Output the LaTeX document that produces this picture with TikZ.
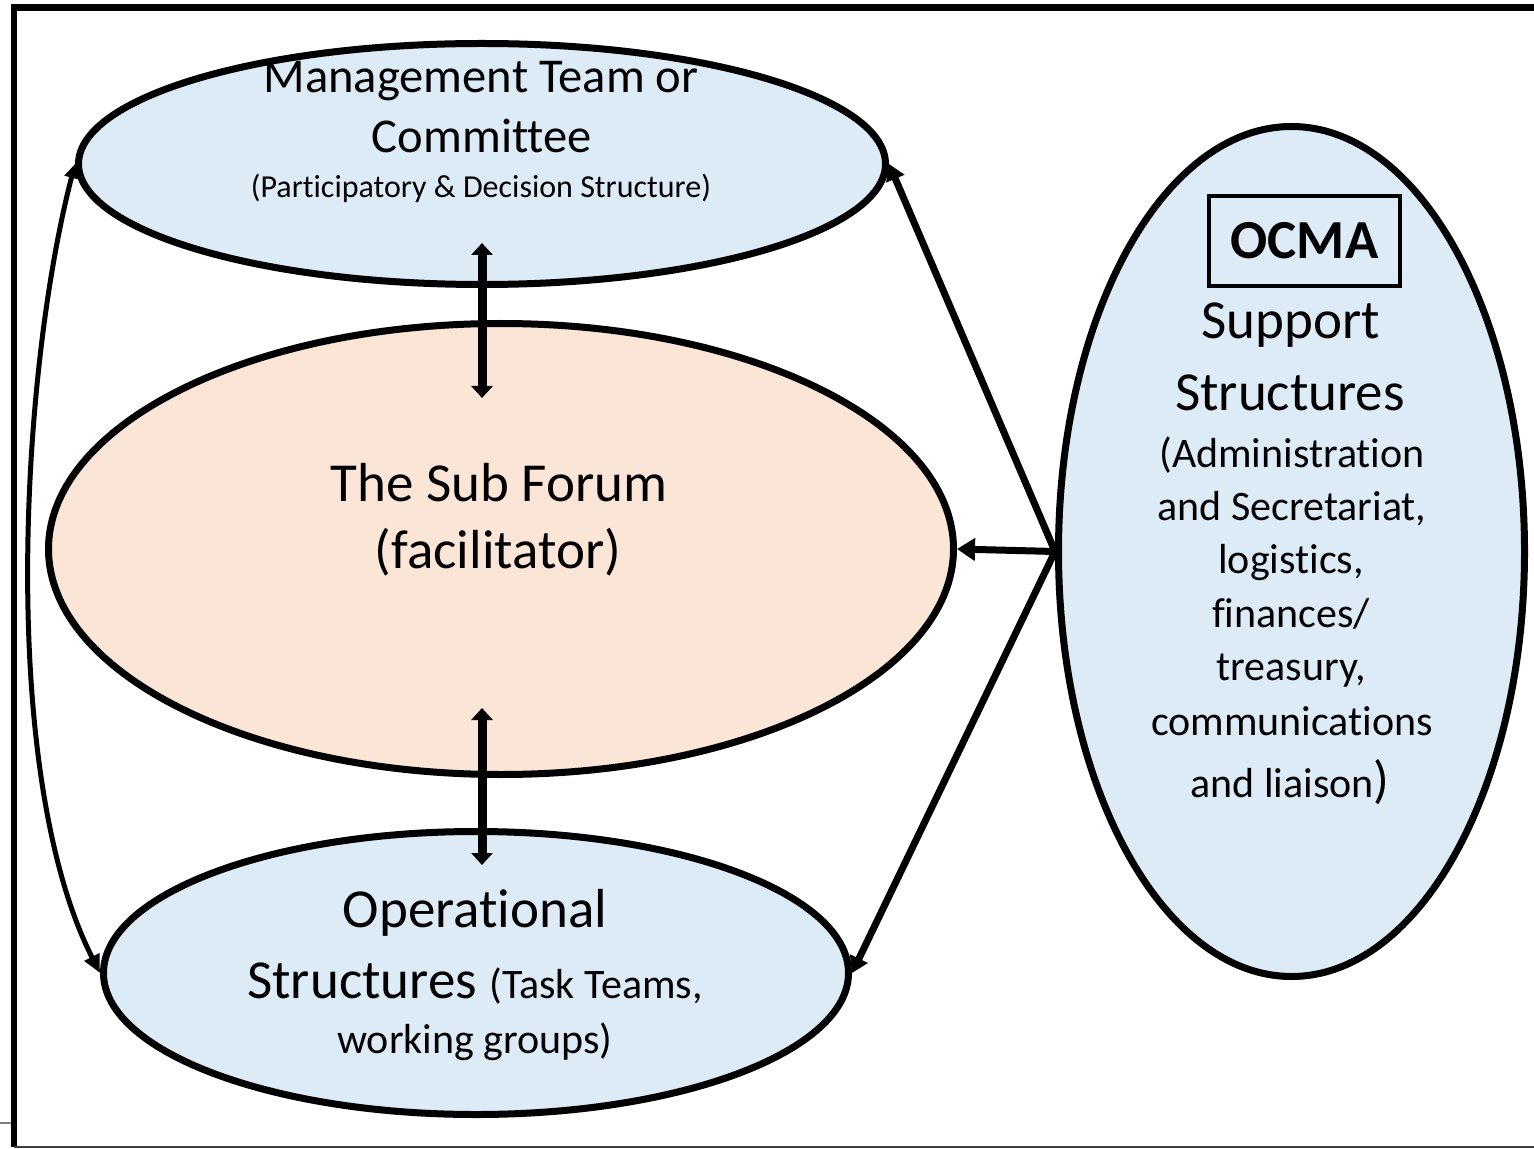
\documentclass[tikz,border=0pt]{standalone}
\usepackage{fontspec}
\setmainfont{Carlito}[Ligatures={NoCommon,NoContextual}]
\usetikzlibrary{arrows.meta,shapes.geometric}
\definecolor{lblue}{HTML}{DDEBF7}
\definecolor{peach}{HTML}{FBE5D6}
\newcommand\myfsm{\fontsize{21}{25}\selectfont}
\begin{document}
\begin{tikzpicture}[x=0.5pt,y=-0.5pt,
  blob/.style={ellipse,draw=black,line width=3.5pt,inner sep=0pt},
  txt/.style={anchor=base,inner sep=0pt,text=black},
  big/.style={txt,font=\fontsize{27.5}{33}\selectfont},
  mid/.style={txt,font=\fontsize{24.3}{29}\selectfont},
  sm/.style={txt,font=\myfsm},
  tiny/.style={txt,font=\fontsize{16}{19}\selectfont},
  arr/.style={line width=3.5pt,-{Triangle[width=9.5pt,length=8pt]}},
  harr/.style={line width=3.5pt,-{Triangle[width=11pt,length=9pt]}},
  dbl/.style={line width=4.5pt,{Triangle[width=10.5pt,length=6pt]}-{Triangle[width=10.5pt,length=6pt]}},
  carr/.style={line width=2.5pt,{Triangle[width=7pt,length=7pt]}-{Triangle[width=8pt,length=9pt]}},
]
\useasboundingbox (0,0) rectangle (1534,1149);
% frame
\draw[line width=3pt] (14,4) -- (14,1147);
\draw[line width=3.5pt] (11,7.5) -- (1534,7.5);
\draw[line width=1pt,black!75] (14,1146.5) -- (1534,1146.5);
\draw[line width=0.6pt,gray] (0,1123) -- (11,1123);
% ellipses
\node[blob,fill=lblue,minimum width=403.5pt,minimum height=120.5pt] (mgmt) at (482,164) {};
\node[blob,fill=peach,minimum width=452.5pt,minimum height=225.5pt] (forum) at (501,549) {};
\node[blob,fill=lblue,minimum width=372.5pt,minimum height=141.5pt] (oper) at (476,973) {};
\node[blob,fill=lblue,minimum width=233pt,minimum height=425pt] (support) at (1291.5,551.5) {};
% OCMA box
\node[draw=black,line width=2pt,minimum width=95.5pt,minimum height=45pt,inner sep=0pt,
  font=\bfseries\fontsize{27.5}{33}\selectfont] (ocma) at (1304.5,241) {OCMA};
% texts
\node[mid] (t1) at (481,93) {Management Team or};
\node[mid] (t2) at (482,153) {Committee};
\node[tiny] (t3) at (481,198) {(Participatory \& Decision Structure)};
\node[big] (t4) at (499,501) {The Sub Forum};
\node[big] (t5) at (498,568) {(facilitator)};
\node[big] (t6) at (475,927) {Operational};
\node[big] (t7) at (475,998) {Structures {\myfsm (Task Teams,}};
\node[sm] (t8) at (475,1053) {working groups)};
\node[big] (t9) at (1291,339) {Support};
\node[big] (t10) at (1290,410) {Structures};
\node[sm] (t11) at (1292,467) {(Administration};
\node[sm] (t12) at (1292,520) {and Secretariat,};
\node[sm] (t13) at (1291,573) {logistics,};
\node[sm] (t14) at (1291,627) {finances/};
\node[sm] (t15) at (1291,680) {treasury,};
\node[sm] (t16) at (1292,735) {communications};
\node[sm] (t17) at (1290,797) {and liaison{\fontsize{26}{30}\selectfont)}};
% connectors
\coordinate (va1) at (482,243);
\coordinate (va2) at (482,398);
\coordinate (vb1) at (482,708);
\coordinate (vb2) at (482,865);
\draw[dbl] (va1) -- (va2);
\draw[dbl] (vb1) -- (vb2);
\draw[harr] (support.west) -- (forum.east);
\draw[arr] (support.west) -- (mgmt.east);
\draw[arr] (support.west) -- (oper.east);
\draw[carr] (mgmt.west) .. controls (20,376) and (-1,774) .. (oper.west);
\end{tikzpicture}
\end{document}
